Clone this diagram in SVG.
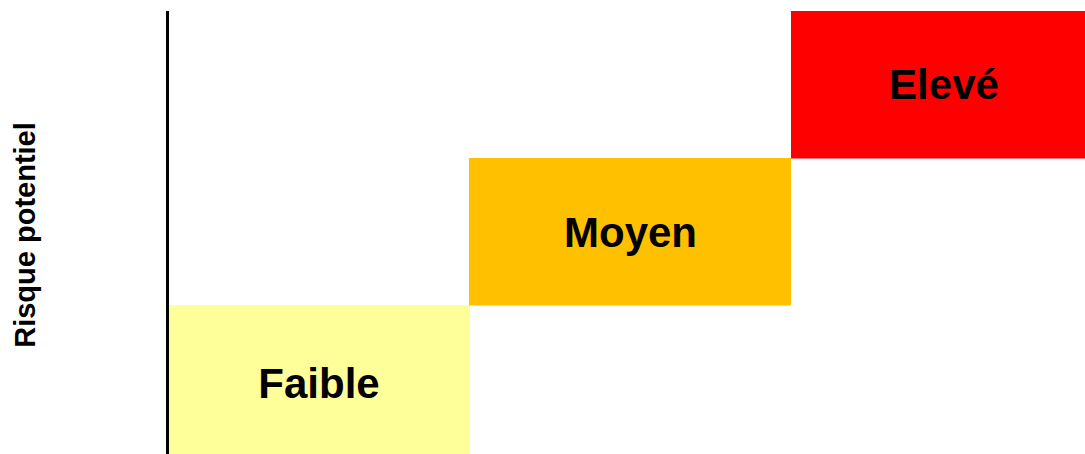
<svg xmlns="http://www.w3.org/2000/svg" width="1085" height="454" viewBox="0 0 1085 454">
<style>
.lbl{font-family:"Liberation Sans",Arial,sans-serif;font-weight:bold;font-size:42px;fill:#000;text-anchor:middle}
.ax{font-family:"Liberation Sans",Arial,sans-serif;font-weight:bold;font-size:29px;fill:#000;text-anchor:middle}
</style>
<rect width="1085" height="454" fill="#fff"/>
<g id="faible"><rect x="169" y="305" width="301" height="149" fill="#FFFF99"/><text class="lbl" x="319" y="398">Faible</text></g>
<g id="moyen"><rect x="469" y="158" width="322" height="147.5" fill="#FFC000"/><text class="lbl" x="630.5" y="247">Moyen</text></g>
<g id="eleve"><rect x="791" y="11" width="294" height="147.5" fill="#FF0000"/><text class="lbl" x="944" y="99">Elevé</text></g>
<g id="axis"><line x1="167.5" y1="11" x2="167.5" y2="454" stroke="#000" stroke-width="3"/><text class="ax" transform="rotate(-90 35 235)" x="35" y="235">Risque potentiel</text></g>
<g id="connectors"/>
</svg>
